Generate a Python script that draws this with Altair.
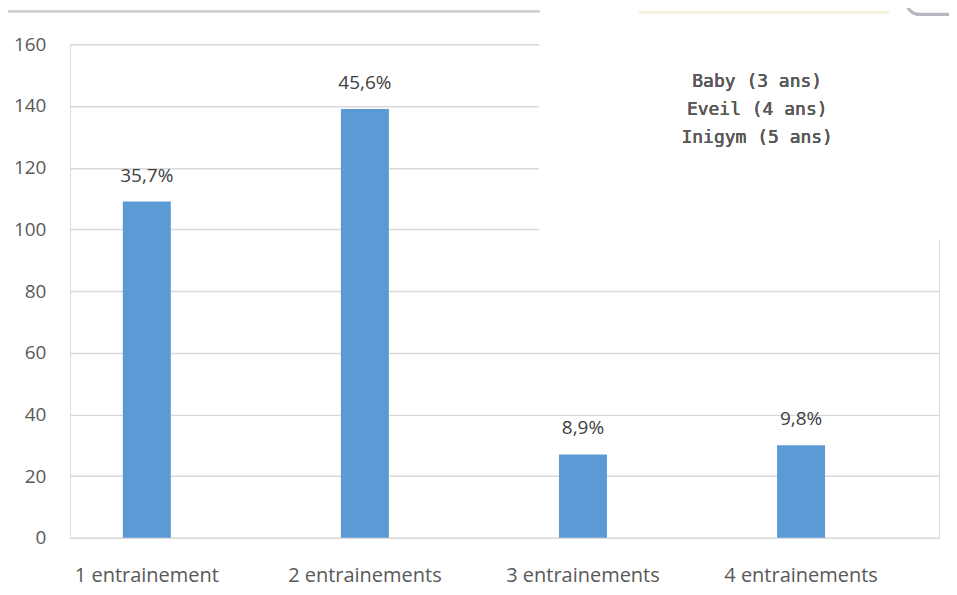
import altair as alt
import pandas as pd

categories = ["1 entrainement", "2 entrainements", "3 entrainements", "4 entrainements"]
values = [109, 139, 27, 30]
pct_labels = ["35,7%", "45,6%", "8,9%", "9,8%"]
box_lines = ["Baby (3 ans)", "Eveil (4 ans)", "Inigym (5 ans)"]

df = pd.DataFrame({"cat": categories, "val": values, "pct": pct_labels})

W, H = 870, 494
FONT = "Open Sans"

base = alt.Chart(df).encode(
    x=alt.X("cat:N", sort=categories, title=None,
            scale=alt.Scale(paddingInner=0.78, paddingOuter=0.3825, align=0.317),
            axis=alt.Axis(labelAngle=0, labelFont=FONT, labelFontSize=20,
                          labelColor="#595959", labelPadding=28, ticks=False,
                          domain=False, grid=False)),
    y=alt.Y("val:Q", title=None,
            scale=alt.Scale(domain=[0, 160], nice=False),
            axis=alt.Axis(values=list(range(0, 161, 20)), labelFont=FONT,
                          labelFontSize=19, labelColor="#595959", labelPadding=24,
                          ticks=False, domain=False, grid=True,
                          gridColor="#d9d9d9", gridWidth=1.5)),
)

bars = base.mark_bar(color="#5b9bd5")
labels = base.mark_text(baseline="middle", dy=-26, font=FONT, fontSize=19,
                        color="#404040").encode(text="pct:N")

# white overlay panel at top right
panel = alt.Chart(df).mark_rect(color="white").encode(
    x=alt.value(470), x2=alt.value(900), y=alt.value(-40), y2=alt.value(196))
top_line = alt.Chart(df).mark_rule(color="#d0d0d0", strokeWidth=2).encode(
    x=alt.value(-70), x2=alt.value(470), y=alt.value(-33))
corner = alt.Chart(df).mark_rect(fill="white", stroke="#b8b8c0", strokeWidth=3,
                                 cornerRadius=12).encode(
    x=alt.value(838), x2=alt.value(920), y=alt.value(-70), y2=alt.value(-30))
faint = alt.Chart(df).mark_rule(color="#f3f0dc", strokeWidth=2).encode(
    x=alt.value(570), x2=alt.value(820), y=alt.value(-32))

box_text = alt.Chart(df).mark_text(
    text=box_lines, font="DejaVu Sans Mono", fontSize=18, fontWeight="normal",
    lineHeight=28, color="#5a5a5a", align="center", baseline="middle",
).encode(x=alt.value(688), y=alt.value(38))

chart = alt.layer(bars, labels, panel, top_line, faint, corner, box_text).properties(
    width=W, height=H,
    autosize=alt.AutoSizeParams(type="none"),
    padding={"left": 62, "top": 36, "right": 10, "bottom": 50},
).configure_view(stroke=None).configure(background="white")

chart.save("out.html", embed_options={"renderer": "svg", "actions": False})
